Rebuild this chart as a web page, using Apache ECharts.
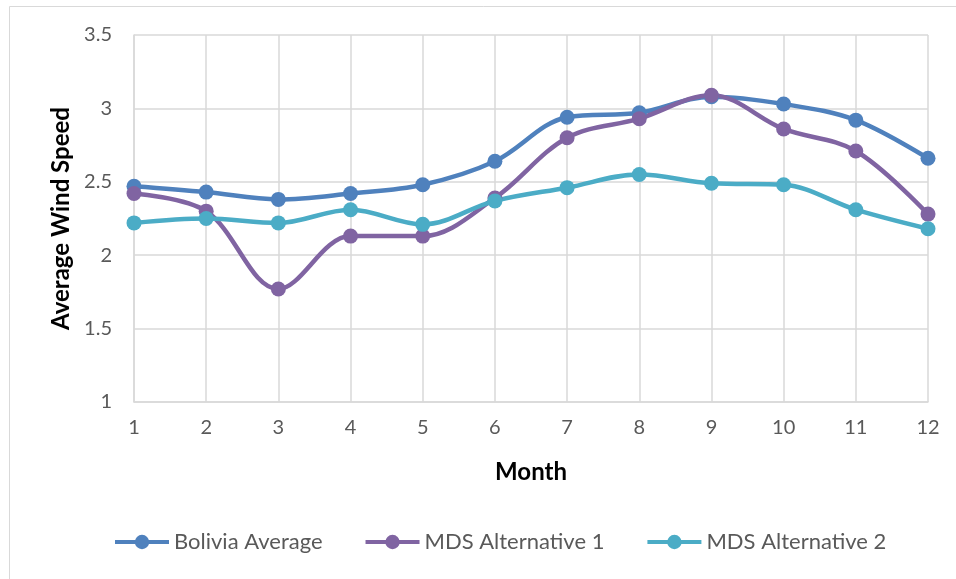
<!DOCTYPE html>
<html>
<head>
<meta charset="utf-8">
<script src="https://cdn.jsdelivr.net/npm/echarts@6/dist/echarts.min.js"></script>
<style>
  html, body { margin: 0; padding: 0; background: #ffffff; }
  #chart { width: 956px; height: 579px; }
</style>
</head>
<body>
<div id="chart"></div>
<script>
// Monthly average wind speed
const months = ['1', '2', '3', '4', '5', '6', '7', '8', '9', '10', '11', '12'];
const boliviaAverage = [2.47, 2.43, 2.38, 2.42, 2.48, 2.64, 2.94, 2.97, 3.08, 3.03, 2.92, 2.66];
const mdsAlternative1 = [2.42, 2.30, 1.77, 2.13, 2.13, 2.39, 2.80, 2.93, 3.09, 2.86, 2.71, 2.28];
const mdsAlternative2 = [2.22, 2.25, 2.22, 2.31, 2.21, 2.37, 2.46, 2.55, 2.49, 2.48, 2.31, 2.18];

const FONT = 'Lato, "Open Sans", sans-serif';
const gridColor = '#d9d9d9';
const labelColor = '#595959';

function makeSeries(name, data, color) {
  return {
    name: name,
    type: 'line',
    data: data,
    smooth: 0.35,
    symbol: 'circle',
    symbolSize: 15,
    lineStyle: { width: 4.5, color: color },
    itemStyle: { color: color },
    emphasis: { disabled: true }
  };
}

const chart = echarts.init(document.getElementById('chart'), null, { renderer: 'canvas' });
chart.setOption({
  animation: false,
  backgroundColor: '#ffffff',
  graphic: [{
    type: 'rect',
    shape: { x: 9.5, y: 6.5, width: 980, height: 620 },
    style: { fill: 'none', stroke: '#d9d9d9', lineWidth: 1 },
    silent: true
  }],
  grid: { left: 134, right: 28, top: 35, bottom: 177, containLabel: false },
  legend: {
    top: 531,
    left: 113,
    padding: 0,
    itemGap: 41,
    itemWidth: 54,
    itemHeight: 18,
    lineStyle: { width: 4 },
    textStyle: { fontFamily: FONT, fontSize: 22, color: labelColor },
    data: [
      { name: 'Bolivia Average' },
      { name: 'MDS Alternative 1' },
      { name: 'MDS Alternative 2' }
    ]
  },
  xAxis: {
    type: 'category',
    data: months,
    boundaryGap: false,
    name: 'Month',
    nameLocation: 'middle',
    nameGap: 58,
    nameTextStyle: { fontFamily: FONT, fontSize: 24, fontWeight: 'bold', color: '#000000' },
    axisLine: { show: true, lineStyle: { color: gridColor, width: 1.5 } },
    axisTick: { show: false },
    axisLabel: { fontFamily: FONT, fontSize: 20, color: labelColor, margin: 16 },
    splitLine: { show: true, lineStyle: { color: gridColor, width: 1.5 } }
  },
  yAxis: {
    type: 'value',
    min: 1,
    max: 3.5,
    interval: 0.5,
    name: 'Average Wind Speed',
    nameLocation: 'middle',
    nameGap: 60,
    nameTextStyle: { fontFamily: FONT, fontSize: 24, fontWeight: 'bold', color: '#000000' },
    axisLine: { show: true, lineStyle: { color: gridColor, width: 1.5 } },
    axisTick: { show: false },
    axisLabel: { fontFamily: FONT, fontSize: 20, color: labelColor, margin: 22 },
    splitLine: { show: true, lineStyle: { color: gridColor, width: 1.5 } }
  },
  series: [
    makeSeries('Bolivia Average', boliviaAverage, '#4f81bd'),
    makeSeries('MDS Alternative 1', mdsAlternative1, '#8064a2'),
    makeSeries('MDS Alternative 2', mdsAlternative2, '#4bacc6')
  ]
});
</script>
</body>
</html>
